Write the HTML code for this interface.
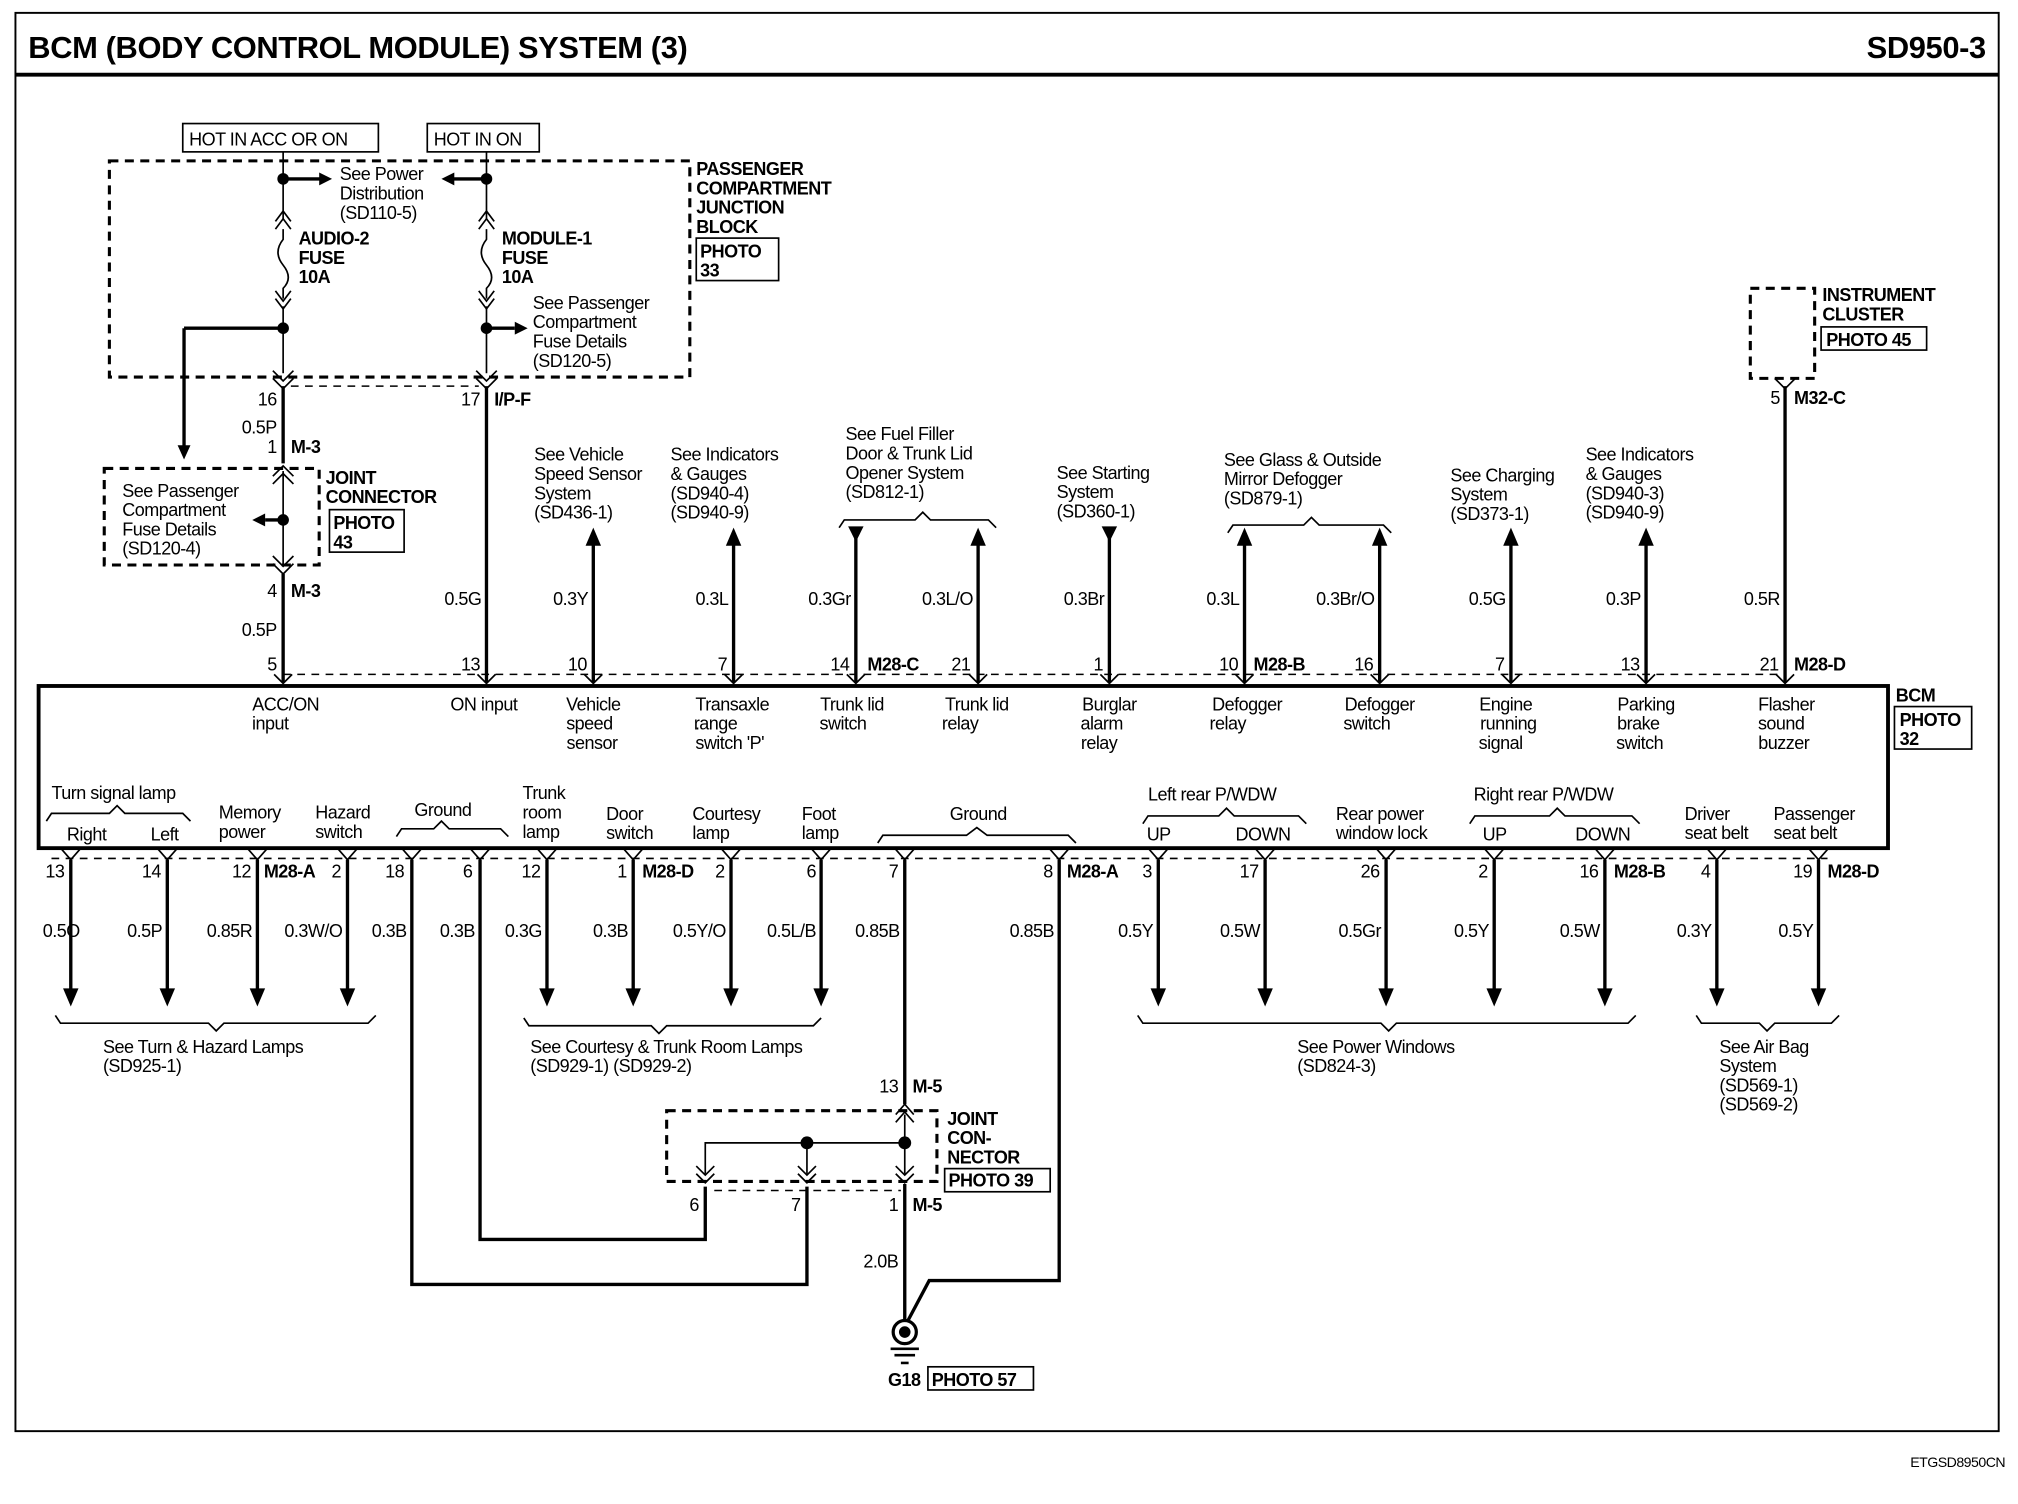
<!DOCTYPE html>
<html><head><meta charset="utf-8"><style>
html,body{margin:0;padding:0;background:#fff}
svg{display:block}
text{font-family:"Liberation Sans",Arial,sans-serif;font-size:14px;fill:#000;letter-spacing:-0.4px}
.b{font-weight:bold}
.w{stroke:#000;stroke-width:2.6;fill:none}
.t{stroke:#000;stroke-width:1.3;fill:none}
.d{stroke:#000;stroke-width:2.4;fill:none;stroke-dasharray:7,5}
.dt{stroke:#000;stroke-width:1.2;fill:none;stroke-dasharray:6,5}
</style></head><body>
<svg width="2018" height="1504" viewBox="0 0 1568 1168.6" preserveAspectRatio="none" xmlns="http://www.w3.org/2000/svg">
<!-- frame -->
<rect x="12" y="10" width="1541" height="1102" fill="none" stroke="#000" stroke-width="1.5"/>
<line x1="12" y1="58" x2="1553" y2="58" stroke="#000" stroke-width="3"/>
<text x="22" y="45" class="b" style="font-size:24px;letter-spacing:-0.3px">BCM (BODY CONTROL MODULE) SYSTEM (3)</text>
<text x="1543" y="45" class="b" text-anchor="end" style="font-size:24px;letter-spacing:-0.3px">SD950-3</text>
<text x="1558" y="1140" text-anchor="end" style="font-size:11px">ETGSD8950CN</text>

<!-- HOT boxes -->
<rect x="142" y="96" width="152" height="22" class="t"/><text x="147" y="113">HOT IN ACC OR ON</text>
<rect x="332" y="96" width="87" height="22" class="t"/><text x="337" y="113">HOT IN ON</text>

<!-- passenger junction block dashed -->
<rect x="85" y="125" width="451" height="168" class="d"/>
<text x="541" y="136" class="b">PASSENGER</text>
<text x="541" y="151" class="b">COMPARTMENT</text>
<text x="541" y="166" class="b">JUNCTION</text>
<text x="541" y="181" class="b">BLOCK</text>
<rect x="541" y="185" width="64" height="33" class="t"/>
<text x="544" y="200" class="b">PHOTO</text><text x="544" y="215" class="b">33</text>

<!-- audio wire x=220 -->
<line x1="220" y1="118" x2="220" y2="170" class="t"/>
<circle cx="220" cy="139" r="4.5"/>
<line x1="220" y1="139" x2="250" y2="139" class="w"/><polygon points="258,139 248,134 248,144"/>
<polyline points="214,172 220,164 226,172" class="t"/><polyline points="214,178 220,170 226,178" class="t"/>
<path d="M220 178 v8 q-8 10 0 20 q8 10 0 18 v8" class="t"/>
<polyline points="214,226 220,234 226,226" class="t"/><polyline points="214,232 220,240 226,232" class="t"/>
<line x1="220" y1="238" x2="220" y2="290" class="t"/>
<circle cx="220" cy="255" r="4.5"/>
<line x1="220" y1="255" x2="143" y2="255" class="w"/>
<line x1="143" y1="255" x2="143" y2="348" class="w"/><polygon points="143,357 138,346 148,346"/>
<polyline points="212,288 220,296 228,288" class="t"/><polyline points="212,294 220,302 228,294" class="t"/>
<text x="232" y="190" class="b">AUDIO-2</text><text x="232" y="205" class="b">FUSE</text><text x="232" y="220" class="b">10A</text>
<text x="264" y="140">See Power</text><text x="264" y="155">Distribution</text><text x="264" y="170">(SD110-5)</text>

<!-- module wire x=378 -->
<line x1="378" y1="118" x2="378" y2="170" class="t"/>
<circle cx="378" cy="139" r="4.5"/>
<line x1="378" y1="139" x2="352" y2="139" class="w"/><polygon points="343,139 353,134 353,144"/>
<polyline points="372,172 378,164 384,172" class="t"/><polyline points="372,178 378,170 384,178" class="t"/>
<path d="M378 178 v8 q-8 10 0 20 q8 10 0 18 v8" class="t"/>
<polyline points="372,226 378,234 384,226" class="t"/><polyline points="372,232 378,240 384,232" class="t"/>
<line x1="378" y1="238" x2="378" y2="290" class="t"/>
<circle cx="378" cy="255" r="4.5"/>
<line x1="378" y1="255" x2="400" y2="255" class="w"/><polygon points="410,255 400,250 400,260"/>
<polyline points="370,288 378,296 386,288" class="t"/><polyline points="370,294 378,302 386,294" class="t"/>
<text x="390" y="190" class="b">MODULE-1</text><text x="390" y="205" class="b">FUSE</text><text x="390" y="220" class="b">10A</text>
<text x="414" y="240">See Passenger</text><text x="414" y="255">Compartment</text><text x="414" y="270">Fuse Details</text><text x="414" y="285">(SD120-5)</text>
<line x1="226" y1="300" x2="372" y2="300" class="dt"/>

<!-- below PJB -->
<line x1="220" y1="300" x2="220" y2="360" class="w"/>
<line x1="378" y1="300" x2="378" y2="530" class="w"/>
<text x="215" y="315" text-anchor="end">16</text>
<text x="373" y="315" text-anchor="end">17</text><text x="384" y="315" class="b">I/P-F</text>
<text x="215" y="337" text-anchor="end">0.5P</text>
<text x="215" y="352" text-anchor="end">1</text><text x="226" y="352" class="b">M-3</text>
<!-- joint connector -->
<rect x="81" y="364" width="167" height="75" class="d"/>
<polyline points="212,370 220,362 228,370" class="t"/><polyline points="212,376 220,368 228,376" class="t"/>
<line x1="220" y1="366" x2="220" y2="440" class="t"/>
<circle cx="220" cy="404" r="4.5"/>
<line x1="220" y1="404" x2="206" y2="404" class="w"/><polygon points="196,404 206,399 206,409"/>
<polyline points="212,432 220,440 228,432" class="t"/><polyline points="212,438 220,446 228,438" class="t"/>
<text x="95" y="386">See Passenger</text><text x="95" y="401">Compartment</text><text x="95" y="416">Fuse Details</text><text x="95" y="431">(SD120-4)</text>
<text x="253" y="376" class="b">JOINT</text><text x="253" y="391" class="b">CONNECTOR</text>
<rect x="256" y="396" width="58" height="33" class="t"/>
<text x="259" y="411" class="b">PHOTO</text><text x="259" y="426" class="b">43</text>
<line x1="220" y1="446" x2="220" y2="530" class="w"/>
<text x="215" y="464" text-anchor="end">4</text><text x="226" y="464" class="b">M-3</text>
<text x="215" y="494" text-anchor="end">0.5P</text>
<text x="374" y="470" text-anchor="end">0.5G</text>

<!-- top signal wires -->
<g>
<line x1="461" y1="420" x2="461" y2="530" class="w"/><polygon points="461,410 455,424 467,424"/>
<line x1="570" y1="420" x2="570" y2="530" class="w"/><polygon points="570,410 564,424 576,424"/>
<line x1="665" y1="410" x2="665" y2="530" class="w"/><polygon points="665,421 659,409 671,409"/>
<line x1="760" y1="420" x2="760" y2="530" class="w"/><polygon points="760,410 754,424 766,424"/>
<line x1="862" y1="410" x2="862" y2="530" class="w"/><polygon points="862,421 856,409 868,409"/>
<line x1="967" y1="420" x2="967" y2="530" class="w"/><polygon points="967,410 961,424 973,424"/>
<line x1="1072" y1="420" x2="1072" y2="530" class="w"/><polygon points="1072,410 1066,424 1078,424"/>
<line x1="1174" y1="420" x2="1174" y2="530" class="w"/><polygon points="1174,410 1168,424 1180,424"/>
<line x1="1279" y1="420" x2="1279" y2="530" class="w"/><polygon points="1279,410 1273,424 1285,424"/>
<line x1="1387" y1="300" x2="1387" y2="530" class="w"/>
</g>
<text x="457" y="470" text-anchor="end">0.3Y</text>
<text x="566" y="470" text-anchor="end">0.3L</text>
<text x="661" y="470" text-anchor="end">0.3Gr</text>
<text x="756" y="470" text-anchor="end">0.3L/O</text>
<text x="858" y="470" text-anchor="end">0.3Br</text>
<text x="963" y="470" text-anchor="end">0.3L</text>
<text x="1068" y="470" text-anchor="end">0.3Br/O</text>
<text x="1170" y="470" text-anchor="end">0.5G</text>
<text x="1275" y="470" text-anchor="end">0.3P</text>
<text x="1383" y="470" text-anchor="end">0.5R</text>

<text x="415" y="358">See Vehicle</text><text x="415" y="373">Speed Sensor</text><text x="415" y="388">System</text><text x="415" y="403">(SD436-1)</text>
<text x="521" y="358">See Indicators</text><text x="521" y="373">&amp; Gauges</text><text x="521" y="388">(SD940-4)</text><text x="521" y="403">(SD940-9)</text>
<text x="657" y="342">See Fuel Filler</text><text x="657" y="357">Door &amp; Trunk Lid</text><text x="657" y="372">Opener System</text><text x="657" y="387">(SD812-1)</text>
<path d="M652 410 l4 -6 h55 l6 -6 l6 6 h45 l6 6" class="t"/>
<text x="821" y="372">See Starting</text><text x="821" y="387">System</text><text x="821" y="402">(SD360-1)</text>
<text x="951" y="362">See Glass &amp; Outside</text><text x="951" y="377">Mirror Defogger</text><text x="951" y="392">(SD879-1)</text>
<path d="M954 414 l4 -6 h55 l6 -6 l6 6 h50 l6 6" class="t"/>
<text x="1127" y="374">See Charging</text><text x="1127" y="389">System</text><text x="1127" y="404">(SD373-1)</text>
<text x="1232" y="358">See Indicators</text><text x="1232" y="373">&amp; Gauges</text><text x="1232" y="388">(SD940-3)</text><text x="1232" y="403">(SD940-9)</text>

<!-- instrument cluster -->
<rect x="1360" y="224" width="50" height="70" class="d"/>
<polyline points="1379,294 1387,302 1395,294" class="t"/>
<text x="1416" y="234" class="b">INSTRUMENT</text><text x="1416" y="249" class="b">CLUSTER</text>
<rect x="1415" y="254" width="82" height="18" class="t"/><text x="1419" y="269" class="b">PHOTO 45</text>
<text x="1383" y="314" text-anchor="end">5</text><text x="1394" y="314" class="b">M32-C</text>

<!-- top connector row -->
<line x1="220" y1="524" x2="1387" y2="524" class="dt"/>
<g class="t">
<polyline points="213,524 220,531 227,524"/><polyline points="371,524 378,531 385,524"/>
<polyline points="454,524 461,531 468,524"/><polyline points="563,524 570,531 577,524"/>
<polyline points="658,524 665,531 672,524"/><polyline points="753,524 760,531 767,524"/>
<polyline points="855,524 862,531 869,524"/><polyline points="960,524 967,531 974,524"/>
<polyline points="1065,524 1072,531 1079,524"/><polyline points="1167,524 1174,531 1181,524"/>
<polyline points="1272,524 1279,531 1286,524"/><polyline points="1380,524 1387,531 1394,524"/>
</g>
<text x="215" y="521" text-anchor="end">5</text>
<text x="373" y="521" text-anchor="end">13</text>
<text x="456" y="521" text-anchor="end">10</text>
<text x="565" y="521" text-anchor="end">7</text>
<text x="660" y="521" text-anchor="end">14</text><text x="674" y="521" class="b">M28-C</text>
<text x="754" y="521" text-anchor="end">21</text>
<text x="857" y="521" text-anchor="end">1</text>
<text x="962" y="521" text-anchor="end">10</text><text x="974" y="521" class="b">M28-B</text>
<text x="1067" y="521" text-anchor="end">16</text>
<text x="1169" y="521" text-anchor="end">7</text>
<text x="1274" y="521" text-anchor="end">13</text>
<text x="1382" y="521" text-anchor="end">21</text><text x="1394" y="521" class="b">M28-D</text>

<!-- BCM box -->
<rect x="30" y="533" width="1437" height="126" fill="none" stroke="#000" stroke-width="3"/>
<text x="1473" y="545" class="b">BCM</text>
<rect x="1472" y="549" width="60" height="33" class="t"/>
<text x="1476" y="564" class="b">PHOTO</text><text x="1476" y="579" class="b">32</text>

<g text-anchor="middle">
<text x="222" y="552">ACC/ON</text><text x="210" y="567">input</text>
<text x="376" y="552">ON input</text>
<text x="461" y="552">Vehicle</text><text x="458" y="567">speed</text><text x="460" y="582">sensor</text>
<text x="569" y="552">Transaxle</text><text x="556" y="567">range</text><text x="567" y="582">switch 'P'</text>
<text x="662" y="552">Trunk lid</text><text x="655" y="567">switch</text>
<text x="759" y="552">Trunk lid</text><text x="746" y="567">relay</text>
<text x="862" y="552">Burglar</text><text x="856" y="567">alarm</text><text x="854" y="582">relay</text>
<text x="969" y="552">Defogger</text><text x="954" y="567">relay</text>
<text x="1072" y="552">Defogger</text><text x="1062" y="567">switch</text>
<text x="1170" y="552">Engine</text><text x="1172" y="567">running</text><text x="1166" y="582">signal</text>
<text x="1279" y="552">Parking</text><text x="1273" y="567">brake</text><text x="1274" y="582">switch</text>
<text x="1388" y="552">Flasher</text><text x="1384" y="567">sound</text><text x="1386" y="582">buzzer</text>
</g>
<text x="540" y="567">.</text>

<!-- bottom labels inside BCM -->
<text x="40" y="621">Turn signal lamp</text>
<path d="M36 638 l4 -6 h45 l6 -6 l6 6 h45 l6 6" class="t"/>
<text x="52" y="653">Right</text><text x="117" y="653">Left</text>
<text x="170" y="636">Memory</text><text x="170" y="651">power</text>
<text x="245" y="636">Hazard</text><text x="245" y="651">switch</text>
<text x="322" y="634">Ground</text>
<path d="M308 650 l4 -6 h25 l6 -6 l6 6 h40 l6 6" class="t"/>
<text x="406" y="621">Trunk</text><text x="406" y="636">room</text><text x="406" y="651">lamp</text>
<text x="471" y="637">Door</text><text x="471" y="652">switch</text>
<text x="538" y="637">Courtesy</text><text x="538" y="652">lamp</text>
<text x="623" y="637">Foot</text><text x="623" y="652">lamp</text>
<text x="738" y="637">Ground</text>
<path d="M682 655 l4 -6 h65 l8 -6 l8 6 h63 l6 6" class="t"/>
<text x="892" y="622">Left rear P/WDW</text>
<path d="M888 640 l4 -6 h55 l6 -6 l6 6 h50 l6 6" class="t"/>
<text x="891" y="653">UP</text><text x="960" y="653">DOWN</text>
<text x="1038" y="637">Rear power</text><text x="1038" y="652">window lock</text>
<text x="1145" y="622">Right rear P/WDW</text>
<path d="M1142 640 l4 -6 h58 l6 -6 l6 6 h52 l6 6" class="t"/>
<text x="1152" y="653">UP</text><text x="1224" y="653">DOWN</text>
<text x="1309" y="637">Driver</text><text x="1309" y="652">seat belt</text>
<text x="1378" y="637">Passenger</text><text x="1378" y="652">seat belt</text>

<!-- bottom connector row -->
<line x1="40" y1="667" x2="1420" y2="667" class="dt"/>
<g class="t">
<polyline points="48,660 55,668 62,660"/><polyline points="123,660 130,668 137,660"/>
<polyline points="193,660 200,668 207,660"/><polyline points="263,660 270,668 277,660"/>
<polyline points="313,660 320,668 327,660"/><polyline points="366,660 373,668 380,660"/>
<polyline points="418,660 425,668 432,660"/><polyline points="485,660 492,668 499,660"/>
<polyline points="561,660 568,668 575,660"/><polyline points="631,660 638,668 645,660"/>
<polyline points="696,660 703,668 710,660"/><polyline points="816,660 823,668 830,660"/>
<polyline points="893,660 900,668 907,660"/><polyline points="976,660 983,668 990,660"/>
<polyline points="1070,660 1077,668 1084,660"/><polyline points="1154,660 1161,668 1168,660"/>
<polyline points="1240,660 1247,668 1254,660"/><polyline points="1327,660 1334,668 1341,660"/>
<polyline points="1406,660 1413,668 1420,660"/>
</g>
<text x="50" y="682" text-anchor="end">13</text>
<text x="125" y="682" text-anchor="end">14</text>
<text x="195" y="682" text-anchor="end">12</text><text x="205" y="682" class="b">M28-A</text>
<text x="265" y="682" text-anchor="end">2</text>
<text x="314" y="682" text-anchor="end">18</text>
<text x="367" y="682" text-anchor="end">6</text>
<text x="420" y="682" text-anchor="end">12</text>
<text x="487" y="682" text-anchor="end">1</text><text x="499" y="682" class="b">M28-D</text>
<text x="563" y="682" text-anchor="end">2</text>
<text x="634" y="682" text-anchor="end">6</text>
<text x="698" y="682" text-anchor="end">7</text>
<text x="818" y="682" text-anchor="end">8</text><text x="829" y="682" class="b">M28-A</text>
<text x="895" y="682" text-anchor="end">3</text>
<text x="978" y="682" text-anchor="end">17</text>
<text x="1072" y="682" text-anchor="end">26</text>
<text x="1156" y="682" text-anchor="end">2</text>
<text x="1242" y="682" text-anchor="end">16</text><text x="1254" y="682" class="b">M28-B</text>
<text x="1329" y="682" text-anchor="end">4</text>
<text x="1408" y="682" text-anchor="end">19</text><text x="1420" y="682" class="b">M28-D</text>

<!-- bottom wires with arrows -->
<g>
<line x1="55" y1="668" x2="55" y2="770" class="w"/><polygon points="55,782 49,768 61,768"/>
<line x1="130" y1="668" x2="130" y2="770" class="w"/><polygon points="130,782 124,768 136,768"/>
<line x1="200" y1="668" x2="200" y2="770" class="w"/><polygon points="200,782 194,768 206,768"/>
<line x1="270" y1="668" x2="270" y2="770" class="w"/><polygon points="270,782 264,768 276,768"/>
<line x1="425" y1="668" x2="425" y2="770" class="w"/><polygon points="425,782 419,768 431,768"/>
<line x1="492" y1="668" x2="492" y2="770" class="w"/><polygon points="492,782 486,768 498,768"/>
<line x1="568" y1="668" x2="568" y2="770" class="w"/><polygon points="568,782 562,768 574,768"/>
<line x1="638" y1="668" x2="638" y2="770" class="w"/><polygon points="638,782 632,768 644,768"/>
<line x1="900" y1="668" x2="900" y2="770" class="w"/><polygon points="900,782 894,768 906,768"/>
<line x1="983" y1="668" x2="983" y2="770" class="w"/><polygon points="983,782 977,768 989,768"/>
<line x1="1077" y1="668" x2="1077" y2="770" class="w"/><polygon points="1077,782 1071,768 1083,768"/>
<line x1="1161" y1="668" x2="1161" y2="770" class="w"/><polygon points="1161,782 1155,768 1167,768"/>
<line x1="1247" y1="668" x2="1247" y2="770" class="w"/><polygon points="1247,782 1241,768 1253,768"/>
<line x1="1334" y1="668" x2="1334" y2="770" class="w"/><polygon points="1334,782 1328,768 1340,768"/>
<line x1="1413" y1="668" x2="1413" y2="770" class="w"/><polygon points="1413,782 1407,768 1419,768"/>
</g>
<text x="62" y="728" text-anchor="end">0.5O</text>
<text x="126" y="728" text-anchor="end">0.5P</text>
<text x="196" y="728" text-anchor="end">0.85R</text>
<text x="266" y="728" text-anchor="end">0.3W/O</text>
<text x="316" y="728" text-anchor="end">0.3B</text>
<text x="369" y="728" text-anchor="end">0.3B</text>
<text x="421" y="728" text-anchor="end">0.3G</text>
<text x="488" y="728" text-anchor="end">0.3B</text>
<text x="564" y="728" text-anchor="end">0.5Y/O</text>
<text x="634" y="728" text-anchor="end">0.5L/B</text>
<text x="699" y="728" text-anchor="end">0.85B</text>
<text x="819" y="728" text-anchor="end">0.85B</text>
<text x="896" y="728" text-anchor="end">0.5Y</text>
<text x="979" y="728" text-anchor="end">0.5W</text>
<text x="1073" y="728" text-anchor="end">0.5Gr</text>
<text x="1157" y="728" text-anchor="end">0.5Y</text>
<text x="1243" y="728" text-anchor="end">0.5W</text>
<text x="1330" y="728" text-anchor="end">0.3Y</text>
<text x="1409" y="728" text-anchor="end">0.5Y</text>

<!-- bottom braces & texts -->
<path d="M43 789 l4 6 h115 l6 6 l6 -6 h112 l6 -6" class="t"/>
<text x="80" y="818">See Turn &amp; Hazard Lamps</text><text x="80" y="833">(SD925-1)</text>
<path d="M407 791 l4 6 h95 l6 6 l6 -6 h114 l6 -6" class="t"/>
<text x="412" y="818">See Courtesy &amp; Trunk Room Lamps</text><text x="412" y="833">(SD929-1) (SD929-2)</text>
<path d="M884 789 l4 6 h185 l6 6 l6 -6 h180 l6 -6" class="t"/>
<text x="1008" y="818">See Power Windows</text><text x="1008" y="833">(SD824-3)</text>
<path d="M1318 789 l4 6 h45 l6 6 l6 -6 h44 l6 -6" class="t"/>
<text x="1336" y="818">See Air Bag</text><text x="1336" y="833">System</text><text x="1336" y="848">(SD569-1)</text><text x="1336" y="863">(SD569-2)</text>

<!-- ground wires -->
<polyline points="320,668 320,998 627,998 627,922" class="w"/>
<polyline points="373,668 373,963 548,963 548,922" class="w"/>
<line x1="703" y1="668" x2="703" y2="858" class="w"/>
<text x="698" y="849" text-anchor="end">13</text><text x="709" y="849" class="b">M-5</text>
<rect x="518" y="863" width="210" height="55" class="d"/>
<polyline points="696,866 703,858 710,866" class="t"/><polyline points="696,872 703,864 710,872" class="t"/>
<line x1="703" y1="866" x2="703" y2="912" class="t"/>
<polyline points="548,912 548,888 703,888" class="t"/>
<line x1="627" y1="888" x2="627" y2="912" class="t"/>
<circle cx="627" cy="888" r="5"/><circle cx="703" cy="888" r="5"/>
<g class="t">
<polyline points="541,906 548,913 555,906"/><polyline points="541,912 548,919 555,912"/>
<polyline points="620,906 627,913 634,906"/><polyline points="620,912 627,919 634,912"/>
<polyline points="696,906 703,913 710,906"/><polyline points="696,912 703,919 710,912"/>
</g>
<line x1="555" y1="925" x2="700" y2="925" class="dt"/>
<text x="736" y="874" class="b">JOINT</text><text x="736" y="889" class="b">CON-</text><text x="736" y="904" class="b">NECTOR</text>
<rect x="734" y="908" width="82" height="18" class="t"/><text x="737" y="922" class="b">PHOTO 39</text>
<text x="543" y="941" text-anchor="end">6</text>
<text x="622" y="941" text-anchor="end">7</text>
<text x="698" y="941" text-anchor="end">1</text><text x="709" y="941" class="b">M-5</text>
<line x1="703" y1="920" x2="703" y2="1027" class="w"/>
<text x="698" y="985" text-anchor="end">2.0B</text>
<polyline points="823,668 823,995 722,995 705,1027" class="w"/>
<circle cx="703" cy="1035" r="9" fill="#fff" stroke="#000" stroke-width="2.5"/>
<circle cx="703" cy="1035" r="4.5"/>
<line x1="692" y1="1048" x2="714" y2="1048" stroke="#000" stroke-width="2"/>
<line x1="695" y1="1053" x2="711" y2="1053" stroke="#000" stroke-width="2"/>
<line x1="700" y1="1059" x2="706" y2="1059" stroke="#000" stroke-width="2"/>
<text x="690" y="1077" class="b">G18</text>
<rect x="721" y="1062" width="82" height="18" class="t"/><text x="724" y="1077" class="b">PHOTO 57</text>
</svg>
</body></html>
